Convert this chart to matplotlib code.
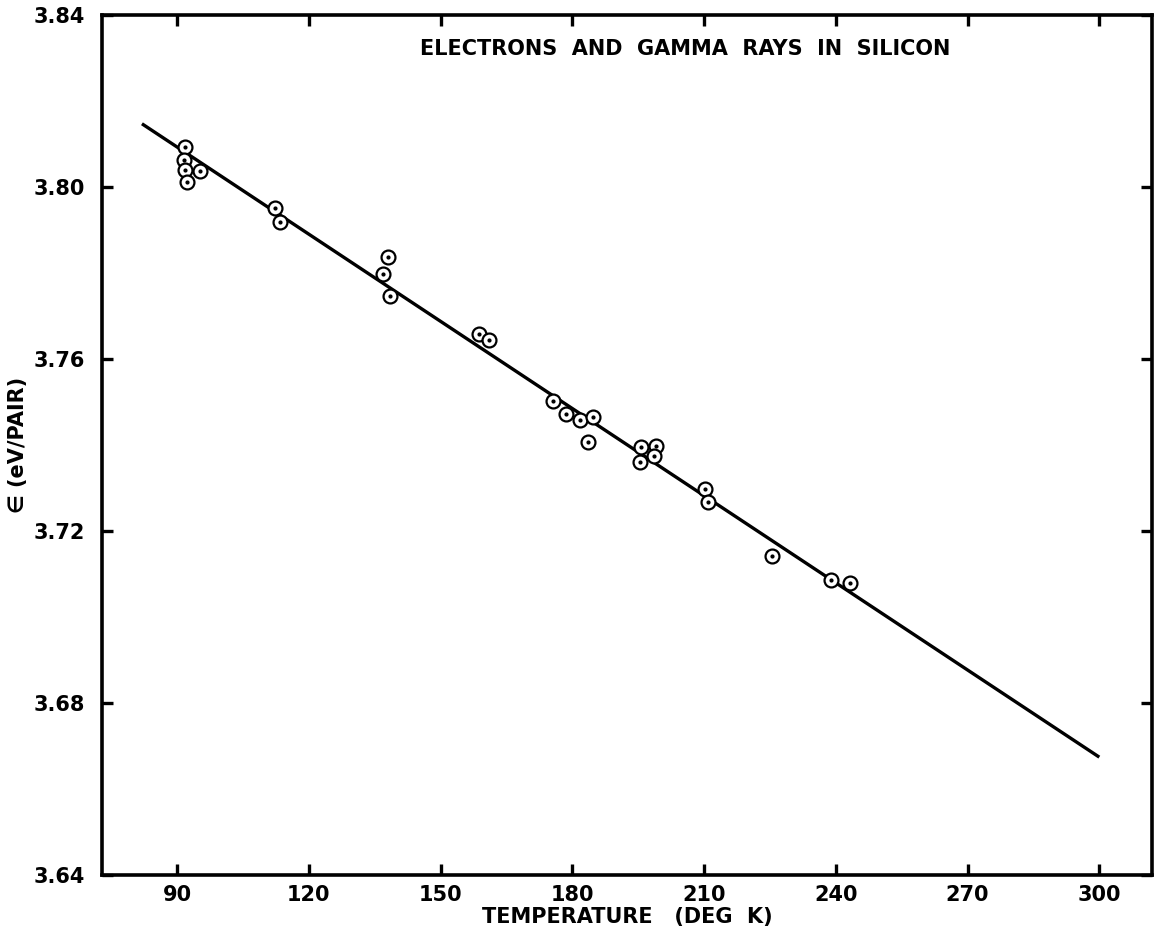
import matplotlib
matplotlib.use('Agg')
import matplotlib.pyplot as plt

temp_k = [91.8, 91.5, 91.7, 95.3, 92.2, 112.3, 113.5, 138.1, 136.9, 138.5,
          158.7, 161.1, 175.5, 178.6, 181.7, 184.6, 183.6, 195.7, 199.1, 198.6,
          195.4, 210.3, 211.0, 225.4, 238.8, 243.3]
eps = [3.8092, 3.8063, 3.8040, 3.8036, 3.8012, 3.7950, 3.7919, 3.7838, 3.7798, 3.7747,
       3.7657, 3.7643, 3.7502, 3.7472, 3.7458, 3.7466, 3.7408, 3.7396, 3.7398, 3.7374,
       3.7361, 3.7298, 3.7267, 3.7142, 3.7086, 3.7078]

# straight-line fit as drawn
fit_x = [82, 300]
fit_y = [3.8147, 3.6674]

xticks = [90, 120, 150, 180, 210, 240, 270, 300]
yticks = [3.64, 3.68, 3.72, 3.76, 3.80, 3.84]

plt.rcParams['font.family'] = ['DejaVu Sans']
plt.rcParams['font.weight'] = 'bold'

fig = plt.figure(figsize=(11.55, 9.36), dpi=100)
ax = fig.add_axes([0.0883, 0.0652, 0.9091, 0.9188])

ax.plot(fit_x, fit_y, color='black', lw=2.4, solid_capstyle='butt', zorder=2)
ax.plot(temp_k, eps, 'o', ms=10, mfc='white', mec='black', mew=1.6, zorder=3)
ax.plot(temp_k, eps, '.', ms=4, color='black', zorder=4)

ax.set_xlim(72.9, 312)
ax.set_ylim(3.64, 3.84)
ax.set_xticks(xticks)
ax.set_xticklabels([str(t) for t in xticks])
ax.set_yticks(yticks)
ax.set_yticklabels(['%.2f' % v for v in yticks])

for s in ax.spines.values():
    s.set_linewidth(2.6)

ax.tick_params(axis='both', direction='in', length=8, width=2.4,
               top=True, right=True, labelsize=15)
ax.tick_params(axis='x', pad=7)
ax.tick_params(axis='y', pad=12)

ax.set_xlabel('TEMPERATURE   (DEG  K)', fontsize=15, fontweight='bold', labelpad=2)
ax.set_ylabel('∈ (eV/PAIR)', fontsize=15, fontweight='bold', labelpad=4)

ax.text(0.555, 0.961, 'ELECTRONS  AND  GAMMA  RAYS  IN  SILICON',
        transform=ax.transAxes, ha='center', va='center', fontsize=15, fontweight='bold')

fig.savefig('out.png', dpi=100, facecolor='white')
